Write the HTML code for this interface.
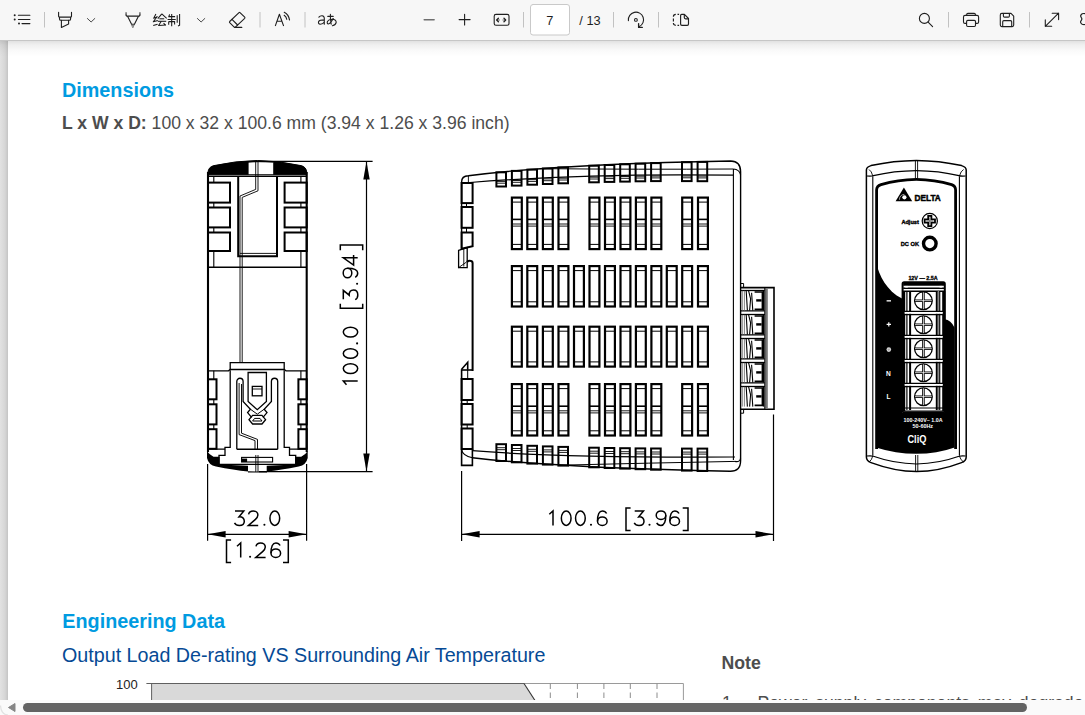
<!DOCTYPE html>
<html><head><meta charset="utf-8"><title>PDF</title>
<style>
html,body{margin:0;padding:0;width:1085px;height:715px;overflow:hidden;background:#fff;font-family:"Liberation Sans",sans-serif;}
#strip{position:absolute;left:0;top:40px;width:8px;height:660px;background:linear-gradient(to right,#e2e2e2 0,#d6d6d6 5px,#c4c4c4 8px);}
#page{position:absolute;left:8px;top:40px;width:1077px;height:660px;background:#fff;overflow:hidden;}
#shade{position:absolute;left:0;top:40px;width:1085px;height:18px;background:linear-gradient(to bottom,rgba(0,0,0,0.13) 0,rgba(0,0,0,0.06) 5px,rgba(0,0,0,0.02) 11px,rgba(0,0,0,0) 17px);}
.t{position:absolute;white-space:nowrap;line-height:1;}
#tb{position:absolute;left:0;top:0;width:1085px;height:40px;background:#f7f7f7;}
#tbl{position:absolute;left:0;top:40px;width:1085px;height:1px;background:#c6c6c6;}
#sb{position:absolute;left:0;top:700px;width:1085px;height:15px;background:#fafafa;}
#thumb{position:absolute;left:23px;top:3px;width:1004px;height:9px;border-radius:4.5px;background:#636363;}
</style></head><body>
<div id="strip"></div>
<div id="page">
  <div class="t" style="left:54px;top:40.7px;font-size:19.8px;font-weight:bold;color:#009be1;">Dimensions</div>
  <div class="t" style="left:54px;top:75px;font-size:17.6px;color:#4d4d4d;"><b>L x W x D:</b> 100 x 32 x 100.6 mm (3.94 x 1.26 x 3.96 inch)</div>
  <div class="t" style="left:54.3px;top:572px;font-size:19.8px;font-weight:bold;color:#009be1;">Engineering Data</div>
  <div class="t" style="left:54px;top:605.5px;font-size:19.7px;color:#064a95;">Output Load De-rating VS Surrounding Air Temperature</div>
  <div class="t" style="left:713.5px;top:615px;font-size:17.7px;font-weight:bold;color:#4d4d4d;">Note</div>
  <div class="t" style="left:108px;top:637.5px;font-size:13px;color:#222;">100</div>
  <div class="t" style="left:714px;top:655px;font-size:17.6px;color:#4d4d4d;">1.</div><div class="t" style="left:749.5px;top:655px;font-size:17.6px;color:#4d4d4d;word-spacing:3px;">Power supply components may degrade over</div>
</div>
<!--DRAW_START--><svg width="1085" height="715" style="position:absolute;left:0;top:0" fill="none" stroke="#000" stroke-width="1.2">
<g stroke="#000">
<path d="M208.0 174.6V172Q208.6 166.8 214 165.6Q236 160.7 257.4 160.5Q279 160.7 301 165.6Q306.1 166.8 306.7 172V174.6Z" fill="#000" stroke="#000" stroke-width="1"/>
<rect x="248.6" y="162" width="24.6" height="12.2" fill="#fff" stroke="none"/>
<path d="M248 162.2Q257.4 161.2 273.6 162.2" stroke-width="1"/>
<path d="M208.0 176.2H306.7" stroke-width="1.4"/>
<path d="M208.0 172V452M306.7 172V452" stroke-width="2.1"/>
<rect x="208.0" y="182.6" width="22.0" height="20.0" stroke-width="2"/>
<rect x="284.6" y="182.6" width="22.1" height="20.0" stroke-width="2"/>
<rect x="208.0" y="207.5" width="22.0" height="19.9" stroke-width="2"/>
<rect x="284.6" y="207.5" width="22.1" height="19.9" stroke-width="2"/>
<rect x="208.0" y="232.5" width="22.0" height="18.5" stroke-width="2"/>
<rect x="284.6" y="232.5" width="22.1" height="18.5" stroke-width="2"/>
<path d="M213.8 176.5V182.6M213.8 202.6V207.5M213.8 227.4V232.5M213.8 251V267M300.9 176.5V182.6M300.9 202.6V207.5M300.9 227.4V232.5M300.9 251V267" stroke-width="1.1"/>
<path d="M238.2 176.3V256.3H277V176.3" stroke-width="2"/>
<path d="M240 253.4H276" stroke-width="0.9"/>
<path d="M255.7 161V189.4L240 196V362.5M258 161V190.8L242.2 197.4V362.5" stroke-width="0.9"/>
<path d="M208.0 267.2H306.7" stroke-width="1.4"/>
<path d="M230.2 370.5V362.6H284.2V370.5" stroke-width="1.3"/>
<path d="M208.0 370.8H228.5L230.2 369.5H284.2L286 370.8H306.7" stroke-width="1.3"/>
<path d="M230.2 370.5V447.4H225V455.4H219V464.3H295.7V455.4H289.5V447.4H284.2V370.5" stroke-width="1.3"/>
<rect x="208.0" y="379.3" width="8.5" height="20.0" stroke-width="2"/>
<rect x="298.4" y="379.3" width="8.3" height="20.0" stroke-width="2"/>
<rect x="208.0" y="404.3" width="8.5" height="20.1" stroke-width="2"/>
<rect x="298.4" y="404.3" width="8.3" height="20.1" stroke-width="2"/>
<rect x="208.0" y="429.2" width="8.5" height="19.6" stroke-width="2"/>
<rect x="298.4" y="429.2" width="8.3" height="19.6" stroke-width="2"/>
<path d="M213.8 370.8V379.3M213.8 399.3V404.3M213.8 424.4V429.2M300.9 370.8V379.3M300.9 399.3V404.3M300.9 424.4V429.2" stroke-width="1.1"/>
<path d="M208.0 449.2H225M306.7 449.2H289.5" stroke-width="1.3"/>
<path d="M236.8 449.3V381.4A3.15 3.15 0 0 1 243.1 381.4V401.5L250.4 409.2L247.6 412.6L251.6 417.4" stroke-width="1.3"/>
<path d="M277.7 449.3V381.4A3.15 3.15 0 0 0 271.4 381.4V401.5L264.2 409.2L267 412.6L263 417.4" stroke-width="1.3"/>
<path d="M236.8 449.3H277.7" stroke-width="1.4"/>
<path d="M239.1 383V434.6L255 440.6V449.3M241.5 384V433.2L257.5 439.4V449.3" stroke-width="0.95"/>
<path d="M248.1 372.5H266.4V401.5L257.3 409.7L248.1 401.5Z" stroke-width="1.3"/>
<rect x="252.3" y="386.4" width="9.7" height="9.4" stroke-width="1.3"/><path d="M252.3 389H262" stroke-width="0.9"/>
<path d="M249 419.7L252.6 415.4H262L265.6 419.7L262 424H252.6Z" stroke-width="1.3"/><path d="M252.6 421L254.6 418.4H260L262 421Z" stroke-width="1"/>
<path d="M250.4 409.2L257.3 414.2L264.2 409.2" stroke-width="1"/>
<path d="M207 451V458Q208.5 465 216 466.6Q234 470.4 248 471.4V465.8L219.6 464.4V456.8H213.5Q209.5 455 207 451Z" fill="#000" stroke="none"/>
<path d="M207 451V458Q208.5 465 216 466.6Q234 470.4 248 471.4V465.8L219.6 464.4V456.8H213.5Q209.5 455 207 451Z" fill="#000" stroke="none" transform="translate(514.7 0) scale(-1 1)"/>
<path d="M248 471.9Q257.4 472.2 267 471.9" stroke-width="1.1"/>
<rect x="241.6" y="457.4" width="31" height="4.6" stroke-width="1.1"/><rect x="241.6" y="458.6" width="5.5" height="3.4" fill="#000" stroke="none"/>
<path d="M255.8 455V472M258 455V472" stroke-width="0.9"/>
</g>
<path d="M259 161.4H372.6M259 471.6H372.6M366.5 161V471.8" stroke-width="1.2" stroke="#000"/>
<path d="M366.50 161.40L369.70 179.40L363.30 179.40Z" fill="#000" stroke="none"/>
<path d="M366.50 471.60L363.30 453.60L369.70 453.60Z" fill="#000" stroke="none"/>
<path d="M207.6 464V540.8M306.6 464V540.8M207.6 534.3H306.6" stroke-width="1.2" stroke="#000"/>
<path d="M207.60 534.30L225.60 531.10L225.60 537.50Z" fill="#000" stroke="none"/>
<path d="M306.60 534.30L288.60 537.50L288.60 531.10Z" fill="#000" stroke="none"/>
<g transform="translate(0 510.30)" fill="none" stroke="#000" stroke-width="1.50"><g transform="translate(233.80 0)"><path d="M1.2 0.7H10L5.2 6.6C8.6 6.3 10.5 8.2 10.5 10.9C10.5 13.6 8.3 15.2 5.5 15.2C3.4 15.2 1.6 14.3 0.7 12.6"/></g><g transform="translate(247.60 0)"><path d="M1 4C1.4 2 3.2 0.7 5.6 0.7C8.3 0.7 10.3 2.4 10.3 4.8C10.3 6.6 9.2 7.9 7.6 9.3L0.8 15.1H10.6"/></g><g transform="translate(264.40 0)"><circle cx="0" cy="14.5" r="1.05" fill="#000" stroke="none"/></g><g transform="translate(269.20 0)"><ellipse cx="5.6" cy="7.9" rx="4.85" ry="7.2"/></g></g>
<g transform="translate(0 542.30)" fill="none" stroke="#000" stroke-width="1.50"><g transform="translate(225.80 0)"><path d="M5.3 -2.3H0.7V20.1H5.3"/></g><g transform="translate(236.10 0)"><path d="M0.9 3.9L4.6 0.7V15.1"/></g><g transform="translate(250.10 0)"><circle cx="0" cy="14.5" r="1.05" fill="#000" stroke="none"/></g><g transform="translate(255.00 0)"><path d="M1 4C1.4 2 3.2 0.7 5.6 0.7C8.3 0.7 10.3 2.4 10.3 4.8C10.3 6.6 9.2 7.9 7.6 9.3L0.8 15.1H10.6"/></g><g transform="translate(270.20 0)"><path d="M9.9 3.2C9 1.5 7.6 0.7 5.7 0.7C2.5 0.7 0.8 4 0.8 10.9"/><ellipse cx="5.6" cy="10.9" rx="4.8" ry="4.3"/></g><g transform="translate(288.30 0)"><path d="M-5.3 -2.3H0V20.1H-5.3"/></g></g>
<g transform="translate(342.60 385.60) rotate(-90)" fill="none" stroke="#000" stroke-width="1.50"><g transform="translate(0.00 0)"><path d="M0.9 3.9L4.6 0.7V15.1"/></g><g transform="translate(11.40 0)"><ellipse cx="5.6" cy="7.9" rx="4.85" ry="7.2"/></g><g transform="translate(26.50 0)"><ellipse cx="5.6" cy="7.9" rx="4.85" ry="7.2"/></g><g transform="translate(42.20 0)"><circle cx="0" cy="14.5" r="1.05" fill="#000" stroke="none"/></g><g transform="translate(47.90 0)"><ellipse cx="5.6" cy="7.9" rx="4.85" ry="7.2"/></g><g transform="translate(76.60 0)"><path d="M5.3 -2.3H0.7V20.1H5.3"/></g><g transform="translate(85.20 0)"><path d="M1.2 0.7H10L5.2 6.6C8.6 6.3 10.5 8.2 10.5 10.9C10.5 13.6 8.3 15.2 5.5 15.2C3.4 15.2 1.6 14.3 0.7 12.6"/></g><g transform="translate(101.90 0)"><circle cx="0" cy="14.5" r="1.05" fill="#000" stroke="none"/></g><g transform="translate(107.00 0)"><path d="M10.4 4.9C10.4 11.8 8.7 15.1 5.5 15.1C3.6 15.1 2.2 14.3 1.3 12.6"/><ellipse cx="5.6" cy="4.9" rx="4.8" ry="4.3"/></g><g transform="translate(119.80 0)"><path d="M8 15.1V0.7L0.7 11H10.7"/></g><g transform="translate(140.60 0)"><path d="M-5.3 -2.3H0V20.1H-5.3"/></g></g>
<g stroke="#000">
<path d="M461.6 248.5V182Q461.6 175.8 468.4 175.7Q560 164 730.6 161Q740.6 161.2 740.6 171.8V460.5Q740.6 471.6 730 471.3Q560 468 472.4 457.7" stroke-width="1.4"/>
<path d="M540.0 168.6Q640.0 169.6 733.4 169.0" stroke-width="1"/>
<path d="M470.0 182.5Q590.0 173.0 733.4 175.2" stroke-width="1.2"/>
<path d="M733.4 169V460M733.4 169Q739.6 169.5 740.6 175" stroke-width="1.1"/>
<path d="M560.0 465.2Q650.0 463.0 735.0 461.4" stroke-width="1"/>
<path d="M472.4 450.6Q560.0 458.0 735.0 457.0" stroke-width="1.2"/>
<path d="M735 461.4Q740 462.5 740.6 458" stroke-width="1.1"/>
<path d="M468.4 175.7V182.5" stroke-width="0.9"/>
<rect x="461.6" y="183.0" width="11" height="20.1" stroke-width="2"/>
<rect x="461.6" y="207.0" width="11" height="20.8" stroke-width="2"/>
<path d="M461.6 232.6H472.6V246.2L461.6 248.8Z" stroke-width="2"/>
<path d="M466.5 203.1V207M466.5 227.8V232.6" stroke-width="1"/>
<path d="M458.6 250.4L467.2 247.6V267.6H458.6Z" stroke-width="1.3"/><path d="M463.8 249V266.5" stroke-width="0.9"/><path d="M458.6 267.6L466 262.4" stroke-width="0.9"/>
<path d="M467.2 262.4Q467.4 260.8 469.4 260.8Q472.6 260.8 472.6 263V371" stroke-width="2"/>
<path d="M461.6 369.2L467.7 362.3V369.2M461.6 369.2V465.4H472.4V449" stroke-width="1.6"/>
<path d="M461.6 370H472.6" stroke-width="1.6"/>
<path d="M467.7 369.2V379" stroke-width="1"/>
<rect x="461.6" y="379.0" width="11" height="21.0" stroke-width="2"/>
<rect x="461.6" y="404.0" width="11" height="20.5" stroke-width="2"/>
<rect x="461.6" y="428.5" width="11" height="20.5" stroke-width="2"/>
<path d="M467.2 400V404M467.2 424.5V428.5" stroke-width="1"/>
<path d="M461.6 449.5Q462.5 455.8 472.4 457.7" stroke-width="1.1"/>
<rect x="496.4" y="172.3" width="9.6" height="14.2" stroke-width="2"/>
<path d="M496.4 181.4H506.0M496.4 183.2H506.0" stroke-width="0.9"/>
<rect x="511.9" y="170.9" width="9.6" height="14.7" stroke-width="2"/>
<path d="M511.9 180.5H521.5M511.9 182.3H521.5" stroke-width="0.9"/>
<rect x="527.4" y="169.6" width="9.6" height="15.1" stroke-width="2"/>
<path d="M527.4 179.6H537.0M527.4 181.4H537.0" stroke-width="0.9"/>
<rect x="542.9" y="168.5" width="9.6" height="15.5" stroke-width="2"/>
<path d="M542.9 178.9H552.5M542.9 180.7H552.5" stroke-width="0.9"/>
<rect x="558.4" y="167.4" width="9.6" height="15.9" stroke-width="2"/>
<path d="M558.4 178.2H568.0M558.4 180.0H568.0" stroke-width="0.9"/>
<rect x="589.2" y="165.7" width="9.6" height="16.6" stroke-width="2"/>
<path d="M589.2 177.2H598.8M589.2 179.0H598.8" stroke-width="0.9"/>
<rect x="604.7" y="165.0" width="9.6" height="16.9" stroke-width="2"/>
<path d="M604.7 176.8H614.3M604.7 178.6H614.3" stroke-width="0.9"/>
<rect x="620.2" y="164.3" width="9.6" height="17.3" stroke-width="2"/>
<path d="M620.2 176.5H629.8M620.2 178.3H629.8" stroke-width="0.9"/>
<rect x="635.6" y="163.7" width="9.6" height="17.6" stroke-width="2"/>
<path d="M635.6 176.2H645.2M635.6 178.0H645.2" stroke-width="0.9"/>
<rect x="651.1" y="163.1" width="9.6" height="18.0" stroke-width="2"/>
<path d="M651.1 176.1H660.7M651.1 177.9H660.7" stroke-width="0.9"/>
<rect x="682.0" y="162.2" width="9.6" height="18.9" stroke-width="2"/>
<path d="M682.0 176.0H691.6M682.0 177.8H691.6" stroke-width="0.9"/>
<rect x="697.6" y="161.9" width="9.6" height="19.3" stroke-width="2"/>
<path d="M697.6 176.1H707.2M697.6 177.9H707.2" stroke-width="0.9"/>
<rect x="496.4" y="444.2" width="9.6" height="16.8" stroke-width="2"/>
<path d="M496.4 447.7H506.0M496.4 449.7H506.0" stroke-width="0.9"/>
<rect x="511.9" y="445.0" width="9.6" height="17.3" stroke-width="2"/>
<path d="M511.9 448.5H521.5M511.9 450.5H521.5" stroke-width="0.9"/>
<rect x="527.4" y="445.8" width="9.6" height="17.8" stroke-width="2"/>
<path d="M527.4 449.3H537.0M527.4 451.3H537.0" stroke-width="0.9"/>
<rect x="542.9" y="446.4" width="9.6" height="18.2" stroke-width="2"/>
<path d="M542.9 449.9H552.5M542.9 451.9H552.5" stroke-width="0.9"/>
<rect x="558.4" y="446.9" width="9.6" height="18.7" stroke-width="2"/>
<path d="M558.4 450.4H568.0M558.4 452.4H568.0" stroke-width="0.9"/>
<rect x="589.2" y="447.7" width="9.6" height="19.6" stroke-width="2"/>
<path d="M589.2 451.2H598.8M589.2 453.2H598.8" stroke-width="0.9"/>
<rect x="604.7" y="448.0" width="9.6" height="20.0" stroke-width="2"/>
<path d="M604.7 451.5H614.3M604.7 453.5H614.3" stroke-width="0.9"/>
<rect x="620.2" y="448.2" width="9.6" height="20.4" stroke-width="2"/>
<path d="M620.2 451.7H629.8M620.2 453.7H629.8" stroke-width="0.9"/>
<rect x="635.6" y="448.4" width="9.6" height="20.8" stroke-width="2"/>
<path d="M635.6 451.9H645.2M635.6 453.9H645.2" stroke-width="0.9"/>
<rect x="651.1" y="448.5" width="9.6" height="21.2" stroke-width="2"/>
<path d="M651.1 452.0H660.7M651.1 454.0H660.7" stroke-width="0.9"/>
<rect x="682.0" y="448.6" width="9.6" height="22.0" stroke-width="2"/>
<path d="M682.0 452.1H691.6M682.0 454.1H691.6" stroke-width="0.9"/>
<rect x="697.6" y="448.6" width="9.6" height="22.4" stroke-width="2"/>
<path d="M697.6 452.1H707.2M697.6 454.1H707.2" stroke-width="0.9"/>
<rect x="511.9" y="197.6" width="9.9" height="51.5" stroke-width="2.2"/>
<path d="M511.9 202.1H521.8M511.9 244.4H521.8" stroke-width="1"/>
<path d="M511.9 219.4H521.8" stroke-width="1.6"/>
<path d="M511.9 224.0H521.8M511.9 226.1H521.8" stroke-width="0.9"/>
<rect x="527.3" y="197.6" width="9.9" height="51.5" stroke-width="2.2"/>
<path d="M527.3 202.1H537.2M527.3 244.4H537.2" stroke-width="1"/>
<path d="M527.3 219.4H537.2" stroke-width="1.6"/>
<path d="M527.3 224.0H537.2M527.3 226.1H537.2" stroke-width="0.9"/>
<rect x="542.9" y="197.6" width="9.9" height="51.5" stroke-width="2.2"/>
<path d="M542.9 202.1H552.8M542.9 244.4H552.8" stroke-width="1"/>
<path d="M542.9 219.4H552.8" stroke-width="1.6"/>
<path d="M542.9 224.0H552.8M542.9 226.1H552.8" stroke-width="0.9"/>
<rect x="558.5" y="197.6" width="9.9" height="51.5" stroke-width="2.2"/>
<path d="M558.5 202.1H568.4M558.5 244.4H568.4" stroke-width="1"/>
<path d="M558.5 219.4H568.4" stroke-width="1.6"/>
<path d="M558.5 224.0H568.4M558.5 226.1H568.4" stroke-width="0.9"/>
<rect x="589.5" y="197.6" width="9.9" height="51.5" stroke-width="2.2"/>
<path d="M589.5 202.1H599.4M589.5 244.4H599.4" stroke-width="1"/>
<path d="M589.5 219.4H599.4" stroke-width="1.6"/>
<path d="M589.5 224.0H599.4M589.5 226.1H599.4" stroke-width="0.9"/>
<rect x="605.0" y="197.6" width="9.9" height="51.5" stroke-width="2.2"/>
<path d="M605.0 202.1H614.9M605.0 244.4H614.9" stroke-width="1"/>
<path d="M605.0 219.4H614.9" stroke-width="1.6"/>
<path d="M605.0 224.0H614.9M605.0 226.1H614.9" stroke-width="0.9"/>
<rect x="620.5" y="197.6" width="9.9" height="51.5" stroke-width="2.2"/>
<path d="M620.5 202.1H630.4M620.5 244.4H630.4" stroke-width="1"/>
<path d="M620.5 219.4H630.4" stroke-width="1.6"/>
<path d="M620.5 224.0H630.4M620.5 226.1H630.4" stroke-width="0.9"/>
<rect x="635.9" y="197.6" width="9.9" height="51.5" stroke-width="2.2"/>
<path d="M635.9 202.1H645.8M635.9 244.4H645.8" stroke-width="1"/>
<path d="M635.9 219.4H645.8" stroke-width="1.6"/>
<path d="M635.9 224.0H645.8M635.9 226.1H645.8" stroke-width="0.9"/>
<rect x="651.4" y="197.6" width="9.9" height="51.5" stroke-width="2.2"/>
<path d="M651.4 202.1H661.3M651.4 244.4H661.3" stroke-width="1"/>
<path d="M651.4 219.4H661.3" stroke-width="1.6"/>
<path d="M651.4 224.0H661.3M651.4 226.1H661.3" stroke-width="0.9"/>
<rect x="682.2" y="197.6" width="9.9" height="51.5" stroke-width="2.2"/>
<path d="M682.2 202.1H692.1M682.2 244.4H692.1" stroke-width="1"/>
<path d="M682.2 219.4H692.1" stroke-width="1.6"/>
<path d="M682.2 224.0H692.1M682.2 226.1H692.1" stroke-width="0.9"/>
<rect x="698.0" y="197.6" width="9.9" height="51.5" stroke-width="2.2"/>
<path d="M698.0 202.1H707.9M698.0 244.4H707.9" stroke-width="1"/>
<path d="M698.0 219.4H707.9" stroke-width="1.6"/>
<path d="M698.0 224.0H707.9M698.0 226.1H707.9" stroke-width="0.9"/>
<rect x="511.9" y="266.1" width="9.9" height="40.4" stroke-width="2.2"/>
<path d="M511.9 270.6H521.8M511.9 301.8H521.8" stroke-width="1"/>
<rect x="527.3" y="266.1" width="9.9" height="40.4" stroke-width="2.2"/>
<path d="M527.3 270.6H537.2M527.3 301.8H537.2" stroke-width="1"/>
<rect x="542.9" y="266.1" width="9.9" height="40.4" stroke-width="2.2"/>
<path d="M542.9 270.6H552.8M542.9 301.8H552.8" stroke-width="1"/>
<rect x="558.5" y="266.1" width="9.9" height="40.4" stroke-width="2.2"/>
<path d="M558.5 270.6H568.4M558.5 301.8H568.4" stroke-width="1"/>
<rect x="574.0" y="266.1" width="9.9" height="40.4" stroke-width="2.2"/>
<path d="M574.0 270.6H583.9M574.0 301.8H583.9" stroke-width="1"/>
<rect x="589.5" y="266.1" width="9.9" height="40.4" stroke-width="2.2"/>
<path d="M589.5 270.6H599.4M589.5 301.8H599.4" stroke-width="1"/>
<rect x="605.0" y="266.1" width="9.9" height="40.4" stroke-width="2.2"/>
<path d="M605.0 270.6H614.9M605.0 301.8H614.9" stroke-width="1"/>
<rect x="620.5" y="266.1" width="9.9" height="40.4" stroke-width="2.2"/>
<path d="M620.5 270.6H630.4M620.5 301.8H630.4" stroke-width="1"/>
<rect x="635.9" y="266.1" width="9.9" height="40.4" stroke-width="2.2"/>
<path d="M635.9 270.6H645.8M635.9 301.8H645.8" stroke-width="1"/>
<rect x="651.4" y="266.1" width="9.9" height="40.4" stroke-width="2.2"/>
<path d="M651.4 270.6H661.3M651.4 301.8H661.3" stroke-width="1"/>
<rect x="666.8" y="266.1" width="9.9" height="40.4" stroke-width="2.2"/>
<path d="M666.8 270.6H676.7M666.8 301.8H676.7" stroke-width="1"/>
<rect x="682.2" y="266.1" width="9.9" height="40.4" stroke-width="2.2"/>
<path d="M682.2 270.6H692.1M682.2 301.8H692.1" stroke-width="1"/>
<rect x="698.0" y="266.1" width="9.9" height="40.4" stroke-width="2.2"/>
<path d="M698.0 270.6H707.9M698.0 301.8H707.9" stroke-width="1"/>
<rect x="511.9" y="326.7" width="9.9" height="39.9" stroke-width="2.2"/>
<path d="M511.9 331.2H521.8M511.9 361.9H521.8" stroke-width="1"/>
<rect x="527.3" y="326.7" width="9.9" height="39.9" stroke-width="2.2"/>
<path d="M527.3 331.2H537.2M527.3 361.9H537.2" stroke-width="1"/>
<rect x="542.9" y="326.7" width="9.9" height="39.9" stroke-width="2.2"/>
<path d="M542.9 331.2H552.8M542.9 361.9H552.8" stroke-width="1"/>
<rect x="558.5" y="326.7" width="9.9" height="39.9" stroke-width="2.2"/>
<path d="M558.5 331.2H568.4M558.5 361.9H568.4" stroke-width="1"/>
<rect x="574.0" y="326.7" width="9.9" height="39.9" stroke-width="2.2"/>
<path d="M574.0 331.2H583.9M574.0 361.9H583.9" stroke-width="1"/>
<rect x="589.5" y="326.7" width="9.9" height="39.9" stroke-width="2.2"/>
<path d="M589.5 331.2H599.4M589.5 361.9H599.4" stroke-width="1"/>
<rect x="605.0" y="326.7" width="9.9" height="39.9" stroke-width="2.2"/>
<path d="M605.0 331.2H614.9M605.0 361.9H614.9" stroke-width="1"/>
<rect x="620.5" y="326.7" width="9.9" height="39.9" stroke-width="2.2"/>
<path d="M620.5 331.2H630.4M620.5 361.9H630.4" stroke-width="1"/>
<rect x="635.9" y="326.7" width="9.9" height="39.9" stroke-width="2.2"/>
<path d="M635.9 331.2H645.8M635.9 361.9H645.8" stroke-width="1"/>
<rect x="651.4" y="326.7" width="9.9" height="39.9" stroke-width="2.2"/>
<path d="M651.4 331.2H661.3M651.4 361.9H661.3" stroke-width="1"/>
<rect x="666.8" y="326.7" width="9.9" height="39.9" stroke-width="2.2"/>
<path d="M666.8 331.2H676.7M666.8 361.9H676.7" stroke-width="1"/>
<rect x="682.2" y="326.7" width="9.9" height="39.9" stroke-width="2.2"/>
<path d="M682.2 331.2H692.1M682.2 361.9H692.1" stroke-width="1"/>
<rect x="698.0" y="326.7" width="9.9" height="39.9" stroke-width="2.2"/>
<path d="M698.0 331.2H707.9M698.0 361.9H707.9" stroke-width="1"/>
<rect x="511.9" y="384.1" width="9.9" height="51.4" stroke-width="2.2"/>
<path d="M511.9 388.6H521.8M511.9 430.8H521.8" stroke-width="1"/>
<path d="M511.9 406.2H521.8" stroke-width="1.6"/>
<path d="M511.9 410.8H521.8M511.9 412.9H521.8" stroke-width="0.9"/>
<rect x="527.3" y="384.1" width="9.9" height="51.4" stroke-width="2.2"/>
<path d="M527.3 388.6H537.2M527.3 430.8H537.2" stroke-width="1"/>
<path d="M527.3 406.2H537.2" stroke-width="1.6"/>
<path d="M527.3 410.8H537.2M527.3 412.9H537.2" stroke-width="0.9"/>
<rect x="542.9" y="384.1" width="9.9" height="51.4" stroke-width="2.2"/>
<path d="M542.9 388.6H552.8M542.9 430.8H552.8" stroke-width="1"/>
<path d="M542.9 406.2H552.8" stroke-width="1.6"/>
<path d="M542.9 410.8H552.8M542.9 412.9H552.8" stroke-width="0.9"/>
<rect x="558.5" y="384.1" width="9.9" height="51.4" stroke-width="2.2"/>
<path d="M558.5 388.6H568.4M558.5 430.8H568.4" stroke-width="1"/>
<path d="M558.5 406.2H568.4" stroke-width="1.6"/>
<path d="M558.5 410.8H568.4M558.5 412.9H568.4" stroke-width="0.9"/>
<rect x="589.5" y="384.1" width="9.9" height="51.4" stroke-width="2.2"/>
<path d="M589.5 388.6H599.4M589.5 430.8H599.4" stroke-width="1"/>
<path d="M589.5 406.2H599.4" stroke-width="1.6"/>
<path d="M589.5 410.8H599.4M589.5 412.9H599.4" stroke-width="0.9"/>
<rect x="605.0" y="384.1" width="9.9" height="51.4" stroke-width="2.2"/>
<path d="M605.0 388.6H614.9M605.0 430.8H614.9" stroke-width="1"/>
<path d="M605.0 406.2H614.9" stroke-width="1.6"/>
<path d="M605.0 410.8H614.9M605.0 412.9H614.9" stroke-width="0.9"/>
<rect x="620.5" y="384.1" width="9.9" height="51.4" stroke-width="2.2"/>
<path d="M620.5 388.6H630.4M620.5 430.8H630.4" stroke-width="1"/>
<path d="M620.5 406.2H630.4" stroke-width="1.6"/>
<path d="M620.5 410.8H630.4M620.5 412.9H630.4" stroke-width="0.9"/>
<rect x="635.9" y="384.1" width="9.9" height="51.4" stroke-width="2.2"/>
<path d="M635.9 388.6H645.8M635.9 430.8H645.8" stroke-width="1"/>
<path d="M635.9 406.2H645.8" stroke-width="1.6"/>
<path d="M635.9 410.8H645.8M635.9 412.9H645.8" stroke-width="0.9"/>
<rect x="651.4" y="384.1" width="9.9" height="51.4" stroke-width="2.2"/>
<path d="M651.4 388.6H661.3M651.4 430.8H661.3" stroke-width="1"/>
<path d="M651.4 406.2H661.3" stroke-width="1.6"/>
<path d="M651.4 410.8H661.3M651.4 412.9H661.3" stroke-width="0.9"/>
<rect x="682.2" y="384.1" width="9.9" height="51.4" stroke-width="2.2"/>
<path d="M682.2 388.6H692.1M682.2 430.8H692.1" stroke-width="1"/>
<path d="M682.2 406.2H692.1" stroke-width="1.6"/>
<path d="M682.2 410.8H692.1M682.2 412.9H692.1" stroke-width="0.9"/>
<rect x="698.0" y="384.1" width="9.9" height="51.4" stroke-width="2.2"/>
<path d="M698.0 388.6H707.9M698.0 430.8H707.9" stroke-width="1"/>
<path d="M698.0 406.2H707.9" stroke-width="1.6"/>
<path d="M698.0 410.8H707.9M698.0 412.9H707.9" stroke-width="0.9"/>
<path d="M740.6 287.6H774V409.2H740.6" stroke-width="1.6"/>
<rect x="765.2" y="288.2" width="2.6" height="120.4" fill="#777" stroke="none"/><path d="M764.8 287.6V409.2" stroke-width="1.1"/>
<path d="M740.6 283.5H743.6V287.6M740.6 413.2H743.6V409.2" stroke-width="1"/>
<path d="M741 290.5H764.6" stroke-width="1.3"/>
<path d="M741 310.8H764.6M741 314.5H764.6" stroke-width="1.2"/>
<path d="M742.3 290.8V310.6M744.4 290.8V310.6" stroke-width="0.8" stroke="#666"/>
<path d="M746.2 290.8L747.4 310.6M748.6 290.8L750.6 298.8L749.6 310.6M751.6 292.8L752.8 310.6" stroke-width="1.1"/>
<path d="M754.6 292.0H762.4V309.4H754.6" stroke-width="1.6"/>
<path d="M756.2 300.4H761.6" stroke-width="2.4"/>
<path d="M763.4 290.8V310.6" stroke-width="1.3"/>
<path d="M741 314.5H764.6" stroke-width="1.3"/>
<path d="M741 334.8H764.6M741 338.5H764.6" stroke-width="1.2"/>
<path d="M742.3 314.8V334.6M744.4 314.8V334.6" stroke-width="0.8" stroke="#666"/>
<path d="M746.2 314.8L747.4 334.6M748.6 314.8L750.6 322.8L749.6 334.6M751.6 316.8L752.8 334.6" stroke-width="1.1"/>
<path d="M754.6 316.0H762.4V333.4H754.6" stroke-width="1.6"/>
<path d="M756.2 324.4H761.6" stroke-width="2.4"/>
<path d="M763.4 314.8V334.6" stroke-width="1.3"/>
<path d="M741 338.5H764.6" stroke-width="1.3"/>
<path d="M741 358.8H764.6M741 362.5H764.6" stroke-width="1.2"/>
<path d="M742.3 338.8V358.6M744.4 338.8V358.6" stroke-width="0.8" stroke="#666"/>
<path d="M746.2 338.8L747.4 358.6M748.6 338.8L750.6 346.8L749.6 358.6M751.6 340.8L752.8 358.6" stroke-width="1.1"/>
<path d="M754.6 340.0H762.4V357.4H754.6" stroke-width="1.6"/>
<path d="M756.2 348.4H761.6" stroke-width="2.4"/>
<path d="M763.4 338.8V358.6" stroke-width="1.3"/>
<path d="M741 362.5H764.6" stroke-width="1.3"/>
<path d="M741 382.8H764.6M741 386.5H764.6" stroke-width="1.2"/>
<path d="M742.3 362.8V382.6M744.4 362.8V382.6" stroke-width="0.8" stroke="#666"/>
<path d="M746.2 362.8L747.4 382.6M748.6 362.8L750.6 370.8L749.6 382.6M751.6 364.8L752.8 382.6" stroke-width="1.1"/>
<path d="M754.6 364.0H762.4V381.4H754.6" stroke-width="1.6"/>
<path d="M756.2 372.4H761.6" stroke-width="2.4"/>
<path d="M763.4 362.8V382.6" stroke-width="1.3"/>
<path d="M741 386.5H764.6" stroke-width="1.3"/>
<path d="M742.3 386.8V406.6M744.4 386.8V406.6" stroke-width="0.8" stroke="#666"/>
<path d="M746.2 386.8L747.4 406.6M748.6 386.8L750.6 394.8L749.6 406.6M751.6 388.8L752.8 406.6" stroke-width="1.1"/>
<path d="M754.6 388.0H762.4V405.4H754.6" stroke-width="1.6"/>
<path d="M756.2 396.4H761.6" stroke-width="2.4"/>
<path d="M763.4 386.8V406.6" stroke-width="1.3"/>
</g>
<path d="M461.6 471V541M773.5 414.6V541M461.6 534.3H773.5" stroke-width="1.2" stroke="#000"/>
<path d="M461.60 534.30L479.60 531.10L479.60 537.50Z" fill="#000" stroke="none"/>
<path d="M773.50 534.30L755.50 537.50L755.50 531.10Z" fill="#000" stroke="none"/>
<g transform="translate(0 510.30)" fill="none" stroke="#000" stroke-width="1.50"><g transform="translate(548.40 0)"><path d="M0.9 3.9L4.6 0.7V15.1"/></g><g transform="translate(560.60 0)"><ellipse cx="5.6" cy="7.9" rx="4.85" ry="7.2"/></g><g transform="translate(574.80 0)"><ellipse cx="5.6" cy="7.9" rx="4.85" ry="7.2"/></g><g transform="translate(591.00 0)"><circle cx="0" cy="14.5" r="1.05" fill="#000" stroke="none"/></g><g transform="translate(596.70 0)"><path d="M9.9 3.2C9 1.5 7.6 0.7 5.7 0.7C2.5 0.7 0.8 4 0.8 10.9"/><ellipse cx="5.6" cy="10.9" rx="4.8" ry="4.3"/></g><g transform="translate(625.30 0)"><path d="M5.3 -2.3H0.7V20.1H5.3"/></g><g transform="translate(633.50 0)"><path d="M1.2 0.7H10L5.2 6.6C8.6 6.3 10.5 8.2 10.5 10.9C10.5 13.6 8.3 15.2 5.5 15.2C3.4 15.2 1.6 14.3 0.7 12.6"/></g><g transform="translate(649.50 0)"><circle cx="0" cy="14.5" r="1.05" fill="#000" stroke="none"/></g><g transform="translate(655.40 0)"><path d="M10.4 4.9C10.4 11.8 8.7 15.1 5.5 15.1C3.6 15.1 2.2 14.3 1.3 12.6"/><ellipse cx="5.6" cy="4.9" rx="4.8" ry="4.3"/></g><g transform="translate(669.10 0)"><path d="M9.9 3.2C9 1.5 7.6 0.7 5.7 0.7C2.5 0.7 0.8 4 0.8 10.9"/><ellipse cx="5.6" cy="10.9" rx="4.8" ry="4.3"/></g><g transform="translate(688.00 0)"><path d="M-5.3 -2.3H0V20.1H-5.3"/></g></g>
<g stroke="#000">
<path d="M866.4 176V170Q866.4 167 871 165.6Q894 160.8 916.3 160.6Q938.6 160.8 961.6 165.6Q966.2 167 966.2 170V457Q966.2 461 961.6 462.6Q938.6 471.4 916.6 471.6Q894.6 471.4 871 462.6Q866.4 461 866.4 457Z" stroke-width="1.5"/>
<path d="M872.8 176.2V455.8M959.4 176.2V455.8" stroke-width="1.1"/>
<path d="M867 176Q872.5 176.3 873.4 175.6Q894 170.8 916.3 170.6Q938.6 170.8 959 175.6Q960.5 176.3 965.6 176" stroke-width="1.2"/>
<path d="M867 456Q872.5 455.7 873.4 456.3Q894 463.6 916.6 464Q938.6 463.6 959 456.3Q960.5 455.7 965.6 456" stroke-width="1.2"/>
<path d="M869 169.5Q871.6 171 872.8 176M963.6 169.5Q960.8 171 959.4 176M869 462Q871.6 460.5 872.8 456M963.6 462Q960.8 460.5 959.4 456" stroke-width="0.9"/>
<path d="M915.4 161V178.5M917.6 161V178.5M915.6 455V471.5M917.8 455V471.5" stroke-width="0.9"/>
<path d="M876.6 449V190Q876.6 186 881 184.6Q898 179.6 916.3 179.4Q934.6 179.6 951.6 184.6Q955.6 186 955.6 190V449" stroke-width="2.8"/>
<path d="M876 262C879 276 887 291 902 298.6V412.5H944.6V319.3Q951 320 954.6 327.7V447.5Q937 453.8 916.3 453.8Q895.6 453.8 876 447.5Z" fill="#000" stroke="none"/>
<path d="M895.6 201.2L903.9 187.4L912.2 201.2Z" fill="#000" stroke="none"/>
<circle cx="904.4" cy="197.3" r="2.1" fill="#fff" stroke="none"/><path d="M899.4 199.8Q899.6 194.6 904.4 194.4" stroke="#fff" stroke-width="0.6"/>
<text x="914.6" y="201.3" font-family="Liberation Sans" font-weight="bold" font-size="9.2" fill="#000" stroke="#000" stroke-width="0.5" textLength="26.2" lengthAdjust="spacingAndGlyphs">DELTA</text>
<text x="901.4" y="223.7" font-family="Liberation Sans" font-weight="bold" font-size="5.6" fill="#000" stroke="#000" stroke-width="0.35" textLength="17.4" lengthAdjust="spacingAndGlyphs">Adjust</text>
<circle cx="929.8" cy="221" r="7.6" stroke-width="1.2"/>
<path d="M928.2 215.8H931.4V219.4H935V222.6H931.4V226.2H928.2V222.6H924.6V219.4H928.2Z" stroke-width="1.8"/><path d="M929.8 217.4V224.6M926.4 221H933.2" stroke-width="0.8" stroke="#555"/>
<text x="900.8" y="246.4" font-family="Liberation Sans" font-weight="bold" font-size="5.8" fill="#000" stroke="#000" stroke-width="0.35" textLength="18.2" lengthAdjust="spacingAndGlyphs">DC OK</text>
<circle cx="929.8" cy="243.6" r="6.3" stroke-width="3.4"/>
<text x="908.4" y="280.3" font-family="Liberation Sans" font-weight="bold" font-size="5.2" fill="#000" stroke="#000" stroke-width="0.3" textLength="29.2" lengthAdjust="spacingAndGlyphs">12V &#8212; 2.5A</text>
<rect x="902.6" y="282.2" width="42.2" height="130" rx="1.5" fill="#fff" stroke-width="2"/>
<path d="M903.2 284.2H944.2" stroke-width="3.2"/>
<path d="M903.2 288.3H944.2" stroke-width="1.6"/><path d="M903.2 291.2H944.2" stroke-width="1.4"/>
<rect x="905.2" y="285.9" width="2.6" height="1.6" fill="#fff" stroke="none"/><rect x="939.6" y="285.9" width="2.6" height="1.6" fill="#fff" stroke="none"/>
<path d="M903.7 291V411M943.7 291V411" stroke-width="3"/>
<path d="M906.9 291V410M939.7 291V410" stroke-width="1.2"/>
<path d="M910.1 291V410M936.8 291V410" stroke-width="2"/>
<path d="M938.4 291V410" stroke-width="1.4" stroke="#888"/>
<circle cx="923.4" cy="300.7" r="8.8" stroke-width="1.3"/>
<path d="M914.6 300.7H932.2M923.4 291.9V309.5" stroke-width="2.6"/>
<path d="M915 300.7H931.8M923.4 292.3V309.1" stroke="#fff" stroke-width="0.8"/>
<path d="M904 311.3H943.4M904 314.5H943.4" stroke-width="1.3"/>
<path d="M904.6 312.9H942.8" stroke="#fff" stroke-width="1.8"/>
<circle cx="923.4" cy="324.7" r="8.8" stroke-width="1.3"/>
<path d="M914.6 324.7H932.2M923.4 315.9V333.5" stroke-width="2.6"/>
<path d="M915 324.7H931.8M923.4 316.3V333.1" stroke="#fff" stroke-width="0.8"/>
<path d="M904 335.3H943.4M904 338.5H943.4" stroke-width="1.3"/>
<path d="M904.6 336.9H942.8" stroke="#fff" stroke-width="1.8"/>
<circle cx="923.4" cy="348.7" r="8.8" stroke-width="1.3"/>
<path d="M914.6 348.7H932.2M923.4 339.9V357.5" stroke-width="2.6"/>
<path d="M915 348.7H931.8M923.4 340.3V357.1" stroke="#fff" stroke-width="0.8"/>
<path d="M904 359.3H943.4M904 362.5H943.4" stroke-width="1.3"/>
<path d="M904.6 360.9H942.8" stroke="#fff" stroke-width="1.8"/>
<circle cx="923.4" cy="372.7" r="8.8" stroke-width="1.3"/>
<path d="M914.6 372.7H932.2M923.4 363.9V381.5" stroke-width="2.6"/>
<path d="M915 372.7H931.8M923.4 364.3V381.1" stroke="#fff" stroke-width="0.8"/>
<path d="M904 383.3H943.4M904 386.5H943.4" stroke-width="1.3"/>
<path d="M904.6 384.9H942.8" stroke="#fff" stroke-width="1.8"/>
<circle cx="923.4" cy="396.7" r="8.8" stroke-width="1.3"/>
<path d="M914.6 396.7H932.2M923.4 387.9V405.5" stroke-width="2.6"/>
<path d="M915 396.7H931.8M923.4 388.3V405.1" stroke="#fff" stroke-width="0.8"/>
<path d="M903.6 408H944M903.6 411H944" stroke-width="1.2"/>
<g fill="#fff" stroke="none" font-family="Liberation Sans" font-weight="bold">
<rect x="886.6" y="300.2" width="4.4" height="1.3"/>
<path d="M886.6 324.4H891M888.8 322.2V326.6" stroke="#fff" stroke-width="1.2"/>
<circle cx="888.8" cy="349.6" r="2.3" fill="#d8d8d8"/><path d="M887.4 349.2H890.2M888.8 349.2V351" stroke="#888" stroke-width="0.6"/>
<text x="886" y="375.6" font-size="6.6">N</text><text x="886.4" y="399.4" font-size="6.6">L</text>
<text x="903.6" y="422.1" font-size="5.2" textLength="39" lengthAdjust="spacingAndGlyphs">100-240V~ 1.0A</text>
<text x="912.6" y="427.8" font-size="5.2" textLength="20.4" lengthAdjust="spacingAndGlyphs">50-60Hz</text>
<text x="907.4" y="443" font-size="10" textLength="19" lengthAdjust="spacingAndGlyphs">CliQ</text>
</g>
</g>
<path d="M151.6 683.5H524L534.6 700H151.6Z" fill="#d9d9d9" stroke="none"/>
<path d="M146.4 683.5H524M151.6 683.5V700" stroke="#606060" stroke-width="1"/>
<path d="M524 683.5H683.4V700" stroke="#9a9a9a" stroke-width="1"/>
<path d="M524 683.5L535 700.5" stroke="#333" stroke-width="1.1"/>
<path d="M550.3 683.5V701M577.4 683.5V701M603.9 683.5V701M630.3 683.5V701M657 683.5V701" stroke="#8c8c8c" stroke-width="1" stroke-dasharray="5.5 3.5"/>
</svg><!--DRAW_END-->
<div id="shade"></div>
<div id="tb"><svg width="1085" height="40" style="position:absolute;left:0;top:0" fill="none" stroke="#1f1f1f" stroke-width="1.1" stroke-linecap="round" stroke-linejoin="round">
<rect x="530.5" y="4.5" width="39" height="30.5" rx="2.5" fill="#fff" stroke="#c9c9c9" stroke-width="1"/>
<!-- list -->
<g><circle cx="14.7" cy="15.3" r="1" fill="#1f1f1f" stroke="none"/><circle cx="14.7" cy="19.5" r="1" fill="#1f1f1f" stroke="none"/><circle cx="19" cy="23.6" r="1" fill="#1f1f1f" stroke="none"/>
<path d="M18.4 15.3H29.9M18.4 19.5H29.9M22 23.6H29.9"/></g>
<g stroke="#c2c2c2" stroke-width="1" stroke-linecap="butt"><path d="M44.5 12V27.5M260 12V27.5M305 12V27.5M523.5 12V27.5M613.5 12V27.5M658.5 12V27.5M948.5 12V27.5M1029.5 12V27.5"/></g>
<!-- highlighter -->
<path d="M58.6 12.2V16.2Q58.6 17.1 59.4 17.1H70.7Q71.5 17.1 71.5 16.2V12.2"/>
<path d="M59.5 17.2V19Q59.5 20.3 60.8 20.3H69.3Q70.6 20.3 70.6 19V17.2"/>
<path d="M61.4 20.3V27.4L68.6 23.9V20.3"/>
<!-- chevrons -->
<path d="M87.4 18.5L91.1 22L94.8 18.5M197.4 18.5L201.1 22L204.8 18.5" stroke="#4a4a4a" stroke-width="1"/>
<!-- draw pen -->
<path d="M126.1 12.3V15.2M139.9 12.3V15.2" stroke="#7a7a7a" stroke-width="1.7" stroke-linecap="butt"/>
<path d="M126.1 15.1Q126.3 16.2 127.4 16.2H138.6Q139.7 16.2 139.9 15.1" stroke-width="1.2"/>
<path d="M127.7 16.6L131.7 24.4H134.3L138.3 16.6"/>
<path d="M131.8 24.8H134.2L133 27.6Z" fill="#7a7a7a" stroke="#7a7a7a" stroke-width="0.8"/>
<!-- 绘制 -->
<g stroke="#1a1a1a" stroke-width="1.05" stroke-linecap="butt">
<path d="M155.9 14L153.7 18.3L157.2 17.1"/>
<path d="M157.4 16.2L153.3 21.8L157.8 20.6"/>
<path d="M153.2 25.6L157.6 24.2"/>
<path d="M161.8 13.9L157.8 18.6M161.8 13.9L166.7 18.4"/>
<path d="M159.4 18.8H164.2"/>
<path d="M157.8 21.3H166.2"/>
<path d="M161.3 21.3L158.6 25.5L166 25.1M163.6 23.1L165.8 25.6"/>
<path d="M169.6 14.4L168.6 17.2M168.9 16.6H175.1M167.6 19.4H175.7M171.7 13.9V26.2"/>
<path d="M168.7 21.6V24.8M168.7 21.6H174.6V24.6"/>
<path d="M177.2 15.2V22.8M179.6 13.9V25.3L178 25.9"/>
</g>
<!-- eraser -->
<path d="M229.7 21.5L239 12.6Q239.5 12.1 240 12.6L244.7 17.2Q245.2 17.8 244.7 18.3L235.4 27.1Q234.8 27.6 234.2 27.1L229.7 22.7Q229.2 22.1 229.7 21.5Z"/>
<path d="M232 19.3L237.6 25M234.8 27.4H241.8"/>
<!-- read aloud A -->
<path d="M275.4 25.6L279.4 14.3L283.5 25.6M276.8 21.3H282"/>
<path d="M284.2 15.3Q286.4 16.8 286.7 19.2M284.3 12.3Q288.8 14.8 289.5 19.9" stroke-width="1.2"/>
<!-- a あ -->
<path d="M318.9 17.2Q320.2 15.5 322.2 15.7Q324.3 16 324.3 18.3V24.2M324.3 19.9Q319.6 19.9 318.6 21.6Q317.9 23.8 320.3 24.2Q323 24.2 324.3 22"/>
<path d="M327.8 16.4H333.2M330.4 14.2Q330.1 19.5 331.2 24.2M333.2 18.6Q330.5 23.8 328.3 24Q326.8 23.8 327.4 21.6Q328.6 19.4 332 19.3Q336.3 19.5 336.2 22.4Q335.8 25 332.4 25.8"/>
<!-- minus plus -->
<path d="M424.2 19.8H434.1" stroke="#6f6f6f" stroke-width="1.5"/>
<path d="M459.1 19.6H470.1M464.6 14.2V24.9"/>
<!-- fit width -->
<rect x="494.2" y="14.4" width="14.8" height="10.9" rx="1.8"/>
<path d="M499.6 20H496.8M502.8 20H505.6" stroke-width="1" stroke="#777"/><path d="M498.4 18.3L496.7 20L498.4 21.7M504 18.3L505.7 20L504 21.7" stroke-width="1.3"/>
<!-- rotate -->
<path d="M628.4 20.6A7.6 7.6 0 1 1 639.3 26.6" />
<path d="M638.6 23.6V27.4H642.3" stroke-width="1.3"/>
<circle cx="635.9" cy="19.9" r="1.4"/>
<!-- two page -->
<path d="M675.8 14.4Q673.4 14.4 673.4 16.7M677.5 14.4H679.1M673.4 18.6V21.6M673.4 23.1Q673.4 25.3 675.8 25.3M677.5 25.3H679.1" stroke-width="1.15" stroke-linecap="butt"/>
<path d="M681.6 14.4H684.4L688.5 18.5V24Q688.5 25.3 687.2 25.3H681.9Q680.6 25.3 680.6 24V15.4Q680.6 14.4 681.6 14.4Z" stroke-width="1.15"/>
<path d="M684.3 14.6V17.6Q684.3 18.8 685.5 18.8H688.3" stroke-width="1.15"/>
<!-- search -->
<circle cx="924.4" cy="18.4" r="5.0"/>
<path d="M928.1 22.1L932.6 26.6"/>
<!-- print -->
<path d="M966.7 15.4V14.6Q966.7 13.4 967.9 13.4H974.2Q975.4 13.4 975.4 14.6V15.4"/>
<path d="M966.4 23.4H965Q963.5 23.4 963.5 21.9V17Q963.5 15.4 965.1 15.4H977Q978.6 15.4 978.6 17V21.9Q978.6 23.4 977.1 23.4H975.6"/>
<rect x="966.6" y="20.4" width="8.9" height="6.1" rx="1.2"/>
<!-- save -->
<path d="M1001.8 13.4H1011L1013.7 16.1V25.1Q1013.7 26.6 1012.2 26.6H1001.8Q1000.3 26.6 1000.3 25.1V14.9Q1000.3 13.4 1001.8 13.4Z"/>
<path d="M1003.4 13.6V16Q1003.4 17.1 1004.5 17.1H1008.3Q1009.4 17.1 1009.4 16V13.6"/>
<path d="M1002.7 26.4V21.8Q1002.7 20.6 1003.9 20.6H1010.5Q1011.7 20.6 1011.7 21.8V26.4"/>
<!-- expand -->
<path d="M1045.3 26.3L1058.6 13.2M1052.2 13.2H1058.6V19.6M1045.3 19.9V26.3H1051.7"/>
<!-- partial extension icon -->
<path d="M1086 14.2Q1084 13 1082.2 13.8Q1079.8 15.4 1081.2 17.4Q1082.6 19 1081 20.8Q1079.8 22.7 1082.2 24.2Q1084 25 1086 24.2" stroke-width="1.2"/>
</svg><div class="t" style="left:546.3px;top:14.8px;font-size:12.8px;color:#1f1f1f;">7</div><div class="t" style="left:579.3px;top:14.8px;font-size:12.8px;color:#1f1f1f;">/ 13</div></div>
<div id="tbl"></div>
<div id="sb"><svg width="20" height="15" style="position:absolute;left:0;top:0"><path d="M15 3.5 L8.5 7.5 L15 11.5 Z" fill="#858585" stroke="#858585" stroke-width="1" stroke-linejoin="round"/><path d="M0.5 5.5Q1 14.5 8 15.2" fill="none" stroke="#e2e2e2" stroke-width="1.2"/></svg><div id="thumb"></div></div>
</body></html>
